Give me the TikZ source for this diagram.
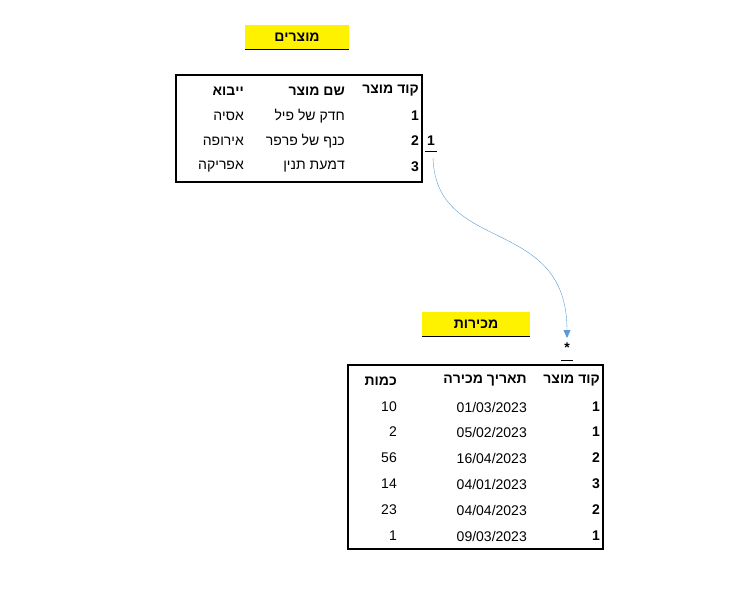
\documentclass[tikz,border=0pt]{standalone}
\usepackage{fontspec}
\setmainfont{Liberation Sans}
\TeXXeTstate=1
\usetikzlibrary{arrows.meta}

\newcommand{\heb}[1]{\beginR #1\endR}

\begin{document}
\begin{tikzpicture} [
    x=1pt, y=-1pt,
    font=\fontsize{14}{16}\selectfont,
    title box/.style = {fill=yellow, minimum width=104pt, minimum height=25pt, font=\fontsize{14}{16}\selectfont\bfseries},
    cell/.style = {anchor=east, inner sep=0pt},
    head/.style = {cell, font=\fontsize{14}{16}\selectfont\bfseries},
    link blue/.style = {color={rgb,255:red,91;green,155;blue,213}}
]
    \useasboundingbox (0,0) rectangle (754,598);

    % products table
    \node[title box] (productsTitle) at (297,37) {\heb{מוצרים}};
    \draw (245,49.5) -- (349,49.5);
    \draw[line width=2pt] (176,75) rectangle (422,182);
    \node[head] (pCode) at (419,91) {\heb{קוד מוצר}};
    \node[head] (pName) at (345,91) {\heb{שם מוצר}};
    \node[head] (pImport) at (244,91) {\heb{ייבוא}};
    \foreach \y/\c/\n/\i in {116/1/חדק של פיל/אסיה, 141/2/כנף של פרפר/אירופה, 167/3/דמעת תנין/אפריקה} {
        \node[head] at (419,\y) {\c};
        \node[cell] at (345,\y) {\heb{\n}};
        \node[cell] at (244,\y) {\heb{\i}};
    }
    \node[font=\fontsize{14}{16}\selectfont\bfseries, inner sep=1pt] (one) at (431,141) {1};
    \draw (425,151.5) -- (437,151.5);

    % sales table
    \node[title box, minimum width=108pt] (salesTitle) at (476,324) {\heb{מכירות}};
    \draw (422,336.5) -- (530,336.5);
    \node[font=\fontsize{14}{16}\selectfont\bfseries, inner sep=1pt] (many) at (567,348) {*};
    \draw (561,360.5) -- (573,360.5);
    \draw[line width=2pt] (348,365) rectangle (603,549);
    \node[head] (sCode) at (600,381) {\heb{קוד מוצר}};
    \node[head] (sDate) at (527,381) {\heb{תאריך מכירה}};
    \node[head] (sQty) at (397,381) {\heb{כמות}};
    \foreach \y/\c/\d/\q in {407/1/{01/03/2023}/10, 432/1/{05/02/2023}/2, 458/2/{16/04/2023}/56,
                             484/3/{04/01/2023}/14, 510/2/{04/04/2023}/23, 536/1/{09/03/2023}/1} {
        \node[head] at (600,\y) {\c};
        \node[cell] at (527,\y) {\d};
        \node[cell] at (397,\y) {\q};
    }

    % relation
    \draw[link blue, -{Triangle[length=8pt,width=7pt]}] (433,158)
        .. controls (436,255) and (567,215) .. (567,338);
\end{tikzpicture}
\end{document}
